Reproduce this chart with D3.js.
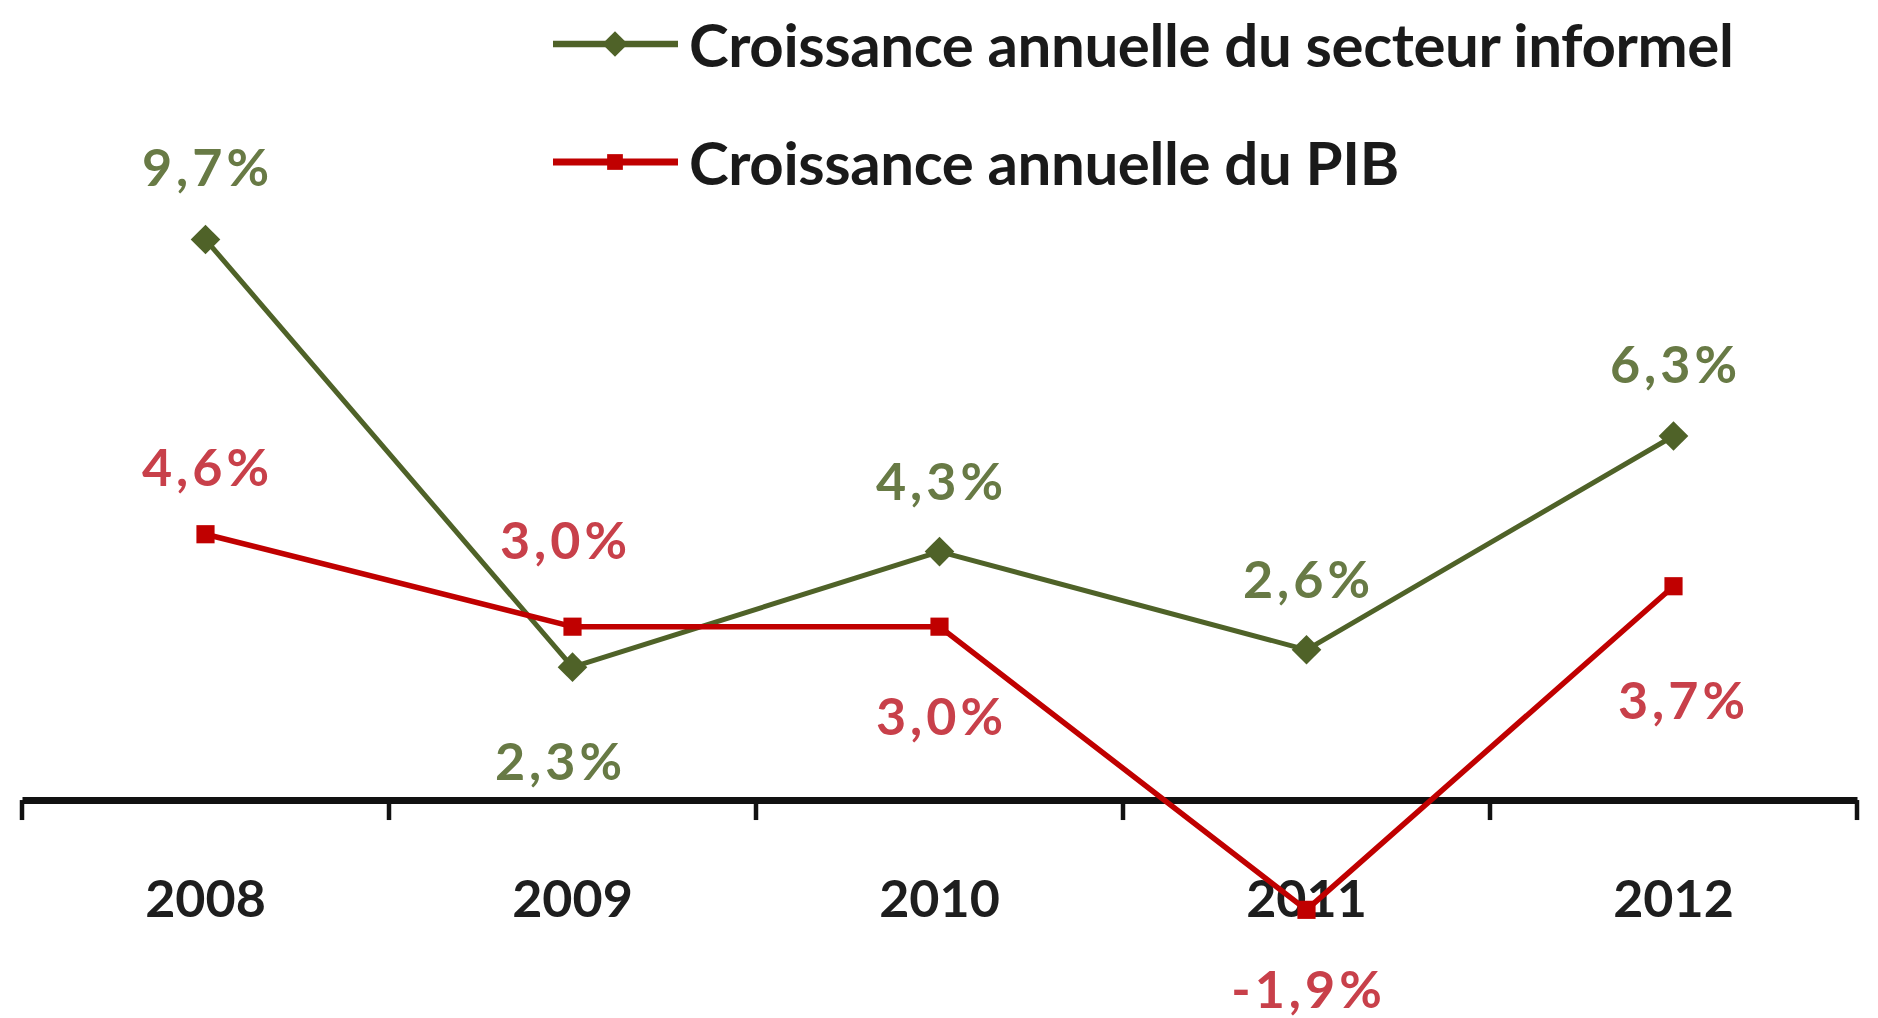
<!DOCTYPE html>
<html>
<head>
<meta charset="utf-8">
<script src="https://cdn.jsdelivr.net/npm/d3@7"></script>
<style>
  body { margin: 0; background: #fff; }
  svg { display: block; }
</style>
</head>
<body>
<div id="wrapper"></div>
<script>
// data
const years = ["2008", "2009", "2010", "2011", "2012"];
const informel = [9.7, 2.3, 4.3, 2.6, 6.3];
const pib = [4.6, 3.0, 3.0, -1.9, 3.7];
const seriesNames = [
  "Croissance annuelle du secteur informel",
  "Croissance annuelle du PIB"
];

function drawChart() {
  const dimensions = {
    width: 1878,
    height: 1018,
    axisLeft: 22,
    axisRight: 1857
  };

  const svg = d3.select("#wrapper").append("svg")
    .attr("width", dimensions.width)
    .attr("height", dimensions.height);

  // categories sit in the middle of each band, ticks go on band edges (excel style)
  const xScale = d3.scaleBand()
    .domain(years)
    .range([dimensions.axisLeft, dimensions.axisRight]);
  const xCenter = d => xScale(d) + xScale.bandwidth() / 2;

  // zero on the axis line at y = 800
  const yScale = d3.scaleLinear()
    .domain([-2, 10])
    .range([915.6, 222.2]);

  const frLocale = d3.formatLocale({
    decimal: ",", thousands: " ", grouping: [3], currency: ["", " €"], minus: "-"
  });
  const fmt = v => frLocale.format(".1f")(v) + "%";

  const series = [
    {
      name: seriesNames[0], values: informel,
      line: "#4f6228", label: "#687a45", width: 5,
      symbol: d3.symbolDiamond2, symbolSize: 560,
      offsets: [[0, -74], [-14, 93], [0, -72], [0, -72], [0, -73]]
    },
    {
      name: seriesNames[1], values: pib,
      line: "#c00000", label: "#c8404a", width: 5.5,
      symbol: d3.symbolSquare2, symbolSize: 420,
      offsets: [[0, -68], [-9, -88], [0, 88], [0, 78], [8, 113]]
    }
  ];

  // x axis
  const zeroY = yScale(0);
  const xAxisGenerator = d3.axisBottom(xScale)
    .tickSize(0)
    .tickPadding(80)
    .tickSizeOuter(0);

  const xAxis = svg.append("g")
    .attr("transform", `translate(0,${zeroY})`)
    .call(xAxisGenerator);
  xAxis.select(".domain")
    .attr("stroke", "#111")
    .attr("stroke-width", 7);
  xAxis.selectAll(".tick text")
    .attr("fill", "#1e1e1e")
    .style("font-family", "Lato, 'Open Sans', sans-serif")
    .style("font-weight", 700)
    .style("font-size", "52px");

  const edges = years.map(d => xScale(d)).concat([dimensions.axisRight]);
  xAxis.selectAll(".edge")
    .data(edges)
    .join("line")
    .attr("class", "edge")
    .attr("x1", d => d).attr("x2", d => d)
    .attr("y1", 0).attr("y2", 20)
    .attr("stroke", "#111")
    .attr("stroke-width", 4.5);

  const lineGenerator = d3.line()
    .x((d, i) => xCenter(years[i]))
    .y(d => yScale(d));

  series.forEach(s => {
    const g = svg.append("g");
    g.append("path")
      .attr("d", lineGenerator(s.values))
      .attr("fill", "none")
      .attr("stroke", s.line)
      .attr("stroke-width", s.width)
      .attr("stroke-linejoin", "round");

    g.selectAll(".marker")
      .data(s.values)
      .join("path")
      .attr("class", "marker")
      .attr("d", d3.symbol(s.symbol, s.symbolSize))
      .attr("transform", (d, i) => `translate(${xCenter(years[i])},${yScale(d)})`)
      .attr("fill", s.line);

    g.selectAll(".value")
      .data(s.values)
      .join("text")
      .attr("class", "value")
      .attr("x", (d, i) => xCenter(years[i]) + s.offsets[i][0] + 2)
      .attr("y", (d, i) => yScale(d) + s.offsets[i][1])
      .attr("text-anchor", "middle")
      .attr("dominant-baseline", "central")
      .attr("fill", s.label)
      .style("font-family", "Lato, 'Open Sans', sans-serif")
      .style("font-weight", 700)
      .style("font-size", "52px")
      .style("letter-spacing", "4px")
      .text(fmt);
  });

  // legend, top right
  const legend = svg.append("g")
    .selectAll("g")
    .data(series)
    .join("g")
    .attr("transform", (d, i) => `translate(553,${44 + i * 118})`);

  legend.append("line")
    .attr("x1", 0).attr("x2", 125)
    .attr("stroke", d => d.line)
    .attr("stroke-width", d => d.width + 1.5);
  legend.append("path")
    .attr("d", d => d3.symbol(d.symbol, d.symbolSize * 0.75)())
    .attr("transform", "translate(62,0)")
    .attr("fill", d => d.line);
  legend.append("text")
    .attr("x", 136)
    .attr("dominant-baseline", "central")
    .attr("fill", "#1a1a1a")
    .style("font-family", "Lato, 'Open Sans', sans-serif")
    .style("font-weight", 700)
    .style("font-size", "60px")
    .style("letter-spacing", "-0.4px")
    .text(d => d.name);
}

drawChart();
</script>
</body>
</html>
